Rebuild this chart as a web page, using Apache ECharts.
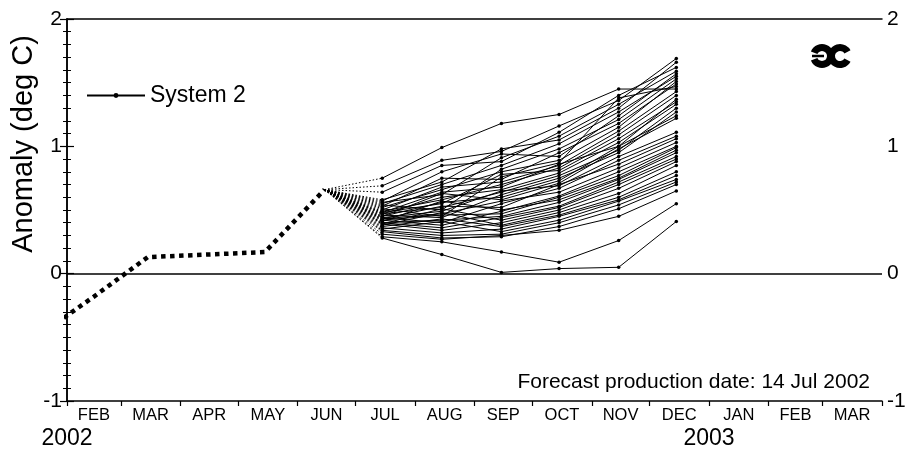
<!DOCTYPE html>
<html>
<head>
<meta charset="utf-8">
<script src="https://cdn.jsdelivr.net/npm/echarts@6/dist/echarts.min.js"></script>
<style>
html,body{margin:0;padding:0;background:#fff;}
#chart{width:909px;height:454px;}
</style>
</head>
<body>
<div id="chart"></div>
<script>
// ---- data ----
const monthStarts = ['2002-02-01','2002-03-01','2002-04-01','2002-05-01','2002-06-01','2002-07-01','2002-08-01','2002-09-01','2002-10-01','2002-11-01','2002-12-01','2003-01-01','2003-02-01','2003-03-01','2003-04-01'];
const monthLabels = ['FEB','MAR','APR','MAY','JUN','JUL','AUG','SEP','OCT','NOV','DEC','JAN','FEB','MAR'];
const yearDates = ['2002-02-01','2003-01-01'];
const yearLabels = ['2002','2003'];
const yTicks = [-1, 0, 1, 2];

const obsDates = ['2002-01-15','2002-02-15','2002-03-15','2002-04-15','2002-05-15','2002-06-15'];
const obsValues = [-0.51, -0.18, 0.13, 0.15, 0.17, 0.66];

const fcDates = ['2002-07-15','2002-08-15','2002-09-15','2002-10-15','2002-11-15','2002-12-15'];
const members = [
  [0.75,0.99,1.18,1.25,1.45,1.45],
  [0.69,0.89,0.96,1.16,1.36,1.69],
  [0.64,0.85,0.88,1.11,1.40,1.62],
  [0.58,0.72,0.98,1.05,1.30,1.66],
  [0.57,0.80,0.94,0.92,1.24,1.57],
  [0.56,0.62,0.91,1.08,1.33,1.59],
  [0.55,0.70,0.85,1.02,1.27,1.55],
  [0.54,0.50,0.82,0.98,1.21,1.53],
  [0.53,0.75,0.74,0.95,1.18,1.49],
  [0.52,0.66,0.80,0.89,1.15,1.51],
  [0.51,0.45,0.76,0.87,1.38,1.47],
  [0.50,0.68,0.72,0.85,1.12,1.43],
  [0.49,0.58,0.70,0.83,1.09,1.40],
  [0.48,0.64,0.68,0.86,1.00,1.37],
  [0.48,0.55,0.78,0.81,1.06,1.35],
  [0.47,0.60,0.66,0.79,1.03,1.33],
  [0.47,0.52,0.64,0.77,0.97,1.30],
  [0.46,0.44,0.62,0.75,0.95,1.27],
  [0.45,0.56,0.60,0.73,1.00,1.24],
  [0.45,0.63,0.58,0.71,0.98,1.22],
  [0.44,0.49,0.65,0.69,0.92,1.11],
  [0.44,0.40,0.55,0.67,0.89,1.08],
  [0.43,0.53,0.52,0.70,0.86,1.06],
  [0.43,0.47,0.57,0.64,0.83,1.03],
  [0.42,0.38,0.49,0.61,0.80,1.00],
  [0.42,0.46,0.47,0.60,0.77,0.99],
  [0.41,0.57,0.50,0.58,0.75,0.97],
  [0.40,0.42,0.45,0.56,0.74,0.95],
  [0.40,0.36,0.44,0.53,0.72,0.92],
  [0.39,0.51,0.42,0.52,0.70,0.90],
  [0.39,0.34,0.40,0.50,0.67,0.88],
  [0.38,0.48,0.38,0.48,0.63,0.85],
  [0.37,0.43,0.37,0.46,0.60,0.80],
  [0.36,0.32,0.35,0.45,0.58,0.77],
  [0.35,0.41,0.33,0.42,0.57,0.74],
  [0.34,0.30,0.31,0.40,0.54,0.72],
  [0.33,0.28,0.29,0.37,0.51,0.70],
  [0.31,0.27,0.30,0.34,0.45,0.65],
  [0.29,0.25,0.17,0.09,0.26,0.55],
  [0.28,0.15,0.01,0.04,0.05,0.41]
];

// ---- helpers ----
const t0 = Date.UTC(2002, 1, 1);
function day(s) {
  const p = s.split('-').map(Number);
  return (Date.UTC(p[0], p[1] - 1, p[2]) - t0) / 86400000;
}
const tickDays = monthStarts.map(day);
const labelDays = monthLabels.map((m, i) => (tickDays[i] + tickDays[i + 1]) / 2);
const labelMap = {}; labelDays.forEach((d, i) => labelMap[d] = monthLabels[i]);
const yearDays = yearDates.map(day);
const yearMap = {}; yearDays.forEach((d, i) => yearMap[d] = yearLabels[i]);
const xMin = tickDays[0], xMax = tickDays[tickDays.length - 1];
const FONT = 'Liberation Sans, Arial, Helvetica, sans-serif';

const series = [];
series.push({
  name: 'Observed', type: 'line', xAxisIndex: 0, yAxisIndex: 0,
  data: obsDates.map((d, i) => [day(d), obsValues[i]]),
  showSymbol: false, symbol: 'none', clip: true, silent: true,
  lineStyle: { color: '#000', width: 4.5, type: [4.5, 4.5], cap: 'butt' },
  markLine: {
    silent: true, symbol: 'none', label: { show: false },
    lineStyle: { color: '#000', width: 1.5, type: 'solid' },
    data: [{ yAxis: 0 }]
  },
  z: 5
});
const jun = [day(obsDates[obsDates.length - 1]), obsValues[obsValues.length - 1]];
members.forEach((m) => {
  series.push({
    name: 'fan', type: 'line', silent: true,
    data: [jun, [day(fcDates[0]), m[0]]],
    symbol: 'none', showSymbol: false,
    lineStyle: { color: '#000', width: 1, type: [1.5, 2] }
  });
  series.push({
    name: 'System 2', type: 'line', silent: true,
    data: fcDates.map((d, i) => [day(d), m[i]]),
    symbol: 'circle', symbolSize: 3.5, showSymbol: true,
    itemStyle: { color: '#000' },
    lineStyle: { color: '#000', width: 1 }
  });
});

const yAxisBase = {
  type: 'value', min: -1, max: 2, interval: 1,
  axisLine: { show: true, lineStyle: { color: '#000', width: 1.5 } },
  axisTick: { show: true, inside: false, length: 7, lineStyle: { color: '#000', width: 1.2 } },
  minorTick: { show: true, splitNumber: 10, length: 4, lineStyle: { color: '#000', width: 1 } },
  axisLabel: { color: '#000', fontSize: 21, fontFamily: FONT, margin: 5,
    formatter: v => yTicks.indexOf(v) >= 0 ? String(v) : '' },
  splitLine: { show: false }
};

const option = {
  animation: false,
  backgroundColor: '#fff',
  grid: { left: 67, right: 27, top: 19, bottom: 53, containLabel: false },
  legend: {
    data: ['System 2'], left: 81, top: 79, itemWidth: 58, itemHeight: 6, itemGap: 10,
    textStyle: { color: '#000', fontSize: 23, fontFamily: FONT },
    selectedMode: false
  },
  xAxis: [
    {
      type: 'value', min: xMin, max: xMax, position: 'bottom',
      axisLine: { show: true, onZero: false, lineStyle: { color: '#000', width: 1.5 } },
      axisTick: { show: true, customValues: tickDays, length: 5, lineStyle: { color: '#000', width: 1.2 } },
      axisLabel: { show: true, customValues: labelDays, formatter: v => labelMap[v] || '',
        color: '#000', fontSize: 16.5, fontFamily: FONT, margin: 6 },
      splitLine: { show: false }
    },
    {
      type: 'value', min: xMin, max: xMax, position: 'bottom',
      axisLine: { show: false }, axisTick: { show: false },
      axisLabel: { show: true, customValues: yearDays, formatter: v => yearMap[v] || '',
        color: '#000', fontSize: 23, fontFamily: FONT, margin: 26, showMinLabel: true },
      splitLine: { show: false }
    },
    {
      type: 'value', min: xMin, max: xMax, position: 'top',
      axisLine: { show: true, onZero: false, lineStyle: { color: '#000', width: 1.5 } },
      axisTick: { show: false }, axisLabel: { show: false }, splitLine: { show: false }
    }
  ],
  yAxis: [
    Object.assign({}, yAxisBase, { position: 'left' }),
    Object.assign({}, yAxisBase, { position: 'right' })
  ],
  graphic: [
    {
      type: 'text', x: 24, y: 144, rotation: Math.PI / 2,
      style: { text: 'Anomaly (deg C)', fill: '#000', font: '29px ' + FONT, textAlign: 'center', textVerticalAlign: 'middle' }
    },
    {
      type: 'text', x: 870, y: 382,
      style: { text: 'Forecast production date: 14 Jul 2002', fill: '#000', font: '21px ' + FONT, textAlign: 'right', textVerticalAlign: 'middle' }
    },
    {
      type: 'arc', shape: { cx: 822, cy: 56, r: 8.5, startAngle: -2.75, endAngle: 2.75, clockwise: true },
      style: { stroke: '#000', lineWidth: 7, fill: null }
    },
    {
      type: 'arc', shape: { cx: 840, cy: 56, r: 8.5, startAngle: 0.5, endAngle: 5.78, clockwise: true },
      style: { stroke: '#000', lineWidth: 7, fill: null }
    },
    {
      type: 'line', shape: { x1: 812, y1: 56, x2: 824, y2: 56 },
      style: { stroke: '#000', lineWidth: 2.5 }
    }
  ],
  series: series
};

const chart = echarts.init(document.getElementById('chart'), null, { renderer: 'canvas' });
chart.setOption(option);
</script>
</body>
</html>
